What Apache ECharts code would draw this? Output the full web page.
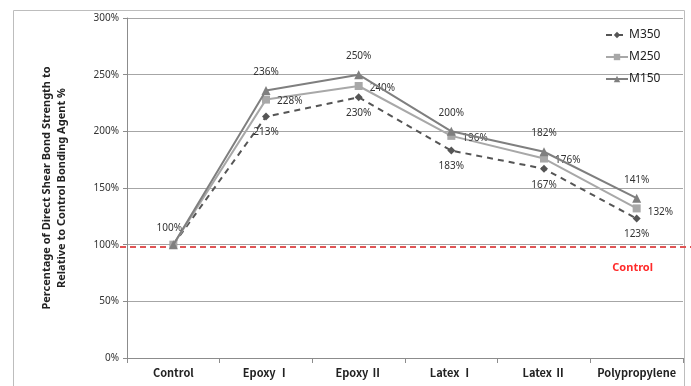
<!DOCTYPE html>
<html>
<head>
<meta charset="utf-8">
<script src="https://cdn.jsdelivr.net/npm/echarts@6/dist/echarts.min.js"></script>
<style>
  html, body { margin: 0; padding: 0; background: #fff; }
  #chart { width: 691px; height: 386px; }
</style>
</head>
<body>
<div id="chart"></div>
<script>
// Bonding agents tested
const categories = ['Control', 'Epoxy Ⅰ', 'Epoxy Ⅱ', 'Latex Ⅰ', 'Latex Ⅱ', 'Polypropylene'];
// Shear bond strength relative to control (%)
const m350 = [100, 213, 230, 183, 167, 123];
const m250 = [100, 228, 240, 196, 176, 132];
const m150 = [100, 236, 250, 200, 182, 141];
const yTicks = [0, 50, 100, 150, 200, 250, 300];
const controlLevel = 98;

const font = '"Noto Sans", "Open Sans", sans-serif';
const labelStyle = { fontSize: 10, color: '#333', fontFamily: font, formatter: p => p.value + '%' };

function labelsAt(positions, data) {
  return data.map((v, i) => {
    const pos = positions[i];
    if (!pos) return { value: v, label: { show: false } };
    return { value: v, label: Object.assign({ show: true, position: pos[0], offset: pos[1] || [0, 0] }, labelStyle) };
  });
}

const chart = echarts.init(document.getElementById('chart'));
chart.setOption({
  animation: false,
  grid: { left: 127, right: 8, top: 18, bottom: 28, containLabel: false },
  legend: {
    orient: 'vertical', left: 600, top: 24, itemWidth: 22, itemHeight: 8, itemGap: 10,
    textStyle: { fontSize: 12, color: '#222', fontFamily: font, padding: [0, 0, 0, -4] },
    data: ['M350', 'M250', 'M150']
  },
  xAxis: {
    type: 'category', data: categories, boundaryGap: true,
    axisLine: { lineStyle: { color: '#8c8c8c', width: 1 } },
    axisTick: { show: true, alignWithLabel: false, length: 5, lineStyle: { color: '#8c8c8c' } },
    axisLabel: { interval: 0, fontSize: 11, fontWeight: 'bold', color: '#222',
      fontFamily: '"Noto Sans CJK SC", "Noto Sans", sans-serif', margin: 9 }
  },
  yAxis: {
    type: 'value', min: 0, max: 300, interval: 50,
    name: 'Percentage of Direct Shear Bond Strength to\nRelative to Control Bonding Agent %',
    nameLocation: 'middle', nameGap: 58, nameRotate: 90,
    nameTextStyle: { fontSize: 11, fontWeight: 'bold', color: '#222', fontFamily: font, lineHeight: 15 },
    axisLine: { show: true, lineStyle: { color: '#8c8c8c' } },
    axisTick: { show: true, length: 4, lineStyle: { color: '#8c8c8c' } },
    axisLabel: { fontSize: 10, color: '#333', fontFamily: font, margin: 8,
      formatter: v => yTicks.includes(v) ? v + '%' : '' },
    splitLine: { lineStyle: { color: '#a6a6a6', width: 1 } }
  },
  series: [
    {
      name: 'M350', type: 'line', symbol: 'diamond', symbolSize: 8,
      lineStyle: { color: '#555', width: 2, type: [6, 5] }, itemStyle: { color: '#555' },
      data: labelsAt([null, ['bottom', [0, 2]], ['bottom', [0, 2]], ['bottom', [0, 2]], ['bottom', [0, 2]], ['bottom', [0, 2]]], m350),
      z: 3
    },
    {
      name: 'M250', type: 'line', symbol: 'rect', symbolSize: 8,
      lineStyle: { color: '#a8a8a8', width: 2 }, itemStyle: { color: '#a8a8a8' },
      data: labelsAt([null, ['right', [2, 2]], ['right', [2, 2]], ['right', [2, 2]], ['right', [2, 2]], ['right', [2, 4]]], m250),
      z: 4
    },
    {
      name: 'M150', type: 'line', symbol: 'triangle', symbolSize: 9,
      lineStyle: { color: '#7f7f7f', width: 2 }, itemStyle: { color: '#7f7f7f' },
      data: labelsAt([['top', [-4, -2]], ['top', [0, -4]], ['top', [0, -4]], ['top', [0, -4]], ['top', [0, -4]], ['top', [0, -4]]], m150),
      z: 5
    }
  ]
});

// Frame, heading, and the control reference level placed through the value axis
const yCtrl = chart.convertToPixel({ yAxisIndex: 0 }, controlLevel);
const xEnd = chart.convertToPixel({ xAxisIndex: 0 }, categories.length - 1);
chart.setOption({
  graphic: [
    { type: 'rect', shape: { x: 13.5, y: 10.5, width: 671, height: 400 },
      style: { fill: 'none', stroke: '#bdbdbd', lineWidth: 1 }, silent: true, z: -1 },
    { type: 'text', x: 98, y: 1,
      style: { text: 'Bond Strength of Agents (MPa)', font: '24px "Liberation Serif", serif', fill: '#111',
        textVerticalAlign: 'bottom' } },
    { type: 'line', shape: { x1: 120, y1: yCtrl, x2: 691, y2: yCtrl },
      style: { stroke: '#e05555', lineWidth: 2, lineDash: [6, 4] }, z: 2, silent: true },
    { type: 'text', x: xEnd - 4, y: yCtrl + 21,
      style: { text: 'Control', fill: '#ff2a2a', font: 'bold 11px ' + font, textAlign: 'center', textVerticalAlign: 'middle' } }
  ]
});
</script>
</body>
</html>
